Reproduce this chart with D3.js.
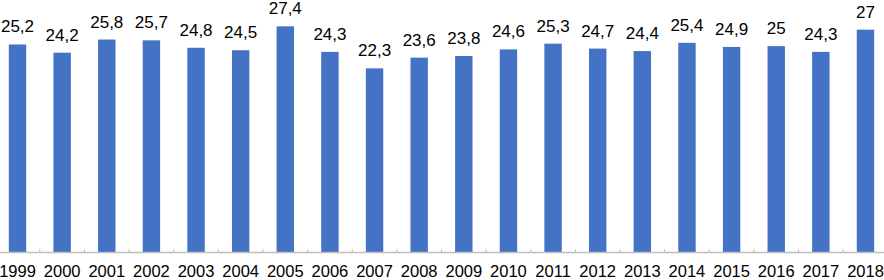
<!DOCTYPE html>
<html>
<head>
<meta charset="utf-8">
<script src="https://cdn.jsdelivr.net/npm/d3@7"></script>
<style>
  body { margin: 0; background: #fff; }
  svg { display: block; font-family: "Liberation Sans", Arial, sans-serif; }
</style>
</head>
<body>
<div id="chart"></div>
<script>
var years = ['1999', '2000', '2001', '2002', '2003', '2004', '2005', '2006', '2007', '2008',
    '2009', '2010', '2011', '2012', '2013', '2014', '2015', '2016', '2017', '2018'];
var values = [25.2, 24.2, 25.8, 25.7, 24.8, 24.5, 27.4, 24.3, 22.3, 23.6,
    23.8, 24.6, 25.3, 24.7, 24.4, 25.4, 24.9, 25, 24.3, 27];

var w = 884, h = 280, baseY = 252;
var fmt = function(v) { return String(v).replace('.', ','); };

var svg = d3.select('#chart').append('svg').attr('width', w).attr('height', h);

var x = d3.scaleBand().domain(years).range([-4.8, 887.8]).paddingInner(0.61).paddingOuter(0.305);
var y = d3.scaleLinear().domain([0, 30.6]).range([baseY, 0]);

svg.append('g').selectAll('rect').data(values).enter()
    .append('rect')
    .attr('x', function(d, i) { return x(years[i]); })
    .attr('y', function(d) { return y(d); })
    .attr('width', x.bandwidth())
    .attr('height', function(d) { return baseY - y(d); })
    .attr('fill', '#4472c4');

// axis line + small ticks between categories
svg.append('line').attr('x1', 0).attr('x2', w).attr('y1', baseY + 0.5).attr('y2', baseY + 0.5)
    .attr('stroke', '#bfbfbf').attr('stroke-width', 1.5);
svg.append('g').selectAll('line').data(years.slice(0, -1)).enter()
    .append('line')
    .attr('x1', function(d) { return x(d) + x.bandwidth() + (x.step() - x.bandwidth()) / 2; })
    .attr('x2', function(d) { return x(d) + x.bandwidth() + (x.step() - x.bandwidth()) / 2; })
    .attr('y1', baseY - 3).attr('y2', baseY)
    .attr('stroke', '#bfbfbf').attr('stroke-width', 1);

svg.append('g').selectAll('text').data(values).enter()
    .append('text')
    .attr('x', function(d, i) { return x(years[i]) + x.bandwidth() / 2; })
    .attr('y', function(d) { return y(d) - 12; })
    .attr('text-anchor', 'middle')
    .style('font-size', '17px').attr('fill', '#000')
    .text(fmt);

svg.append('g').selectAll('text').data(years).enter()
    .append('text')
    .attr('x', function(d) { return x(d) + x.bandwidth() / 2; })
    .attr('y', 277)
    .attr('text-anchor', 'middle')
    .style('font-size', '16.5px').attr('fill', '#000')
    .text(function(d) { return d; });
</script>
</body>
</html>
